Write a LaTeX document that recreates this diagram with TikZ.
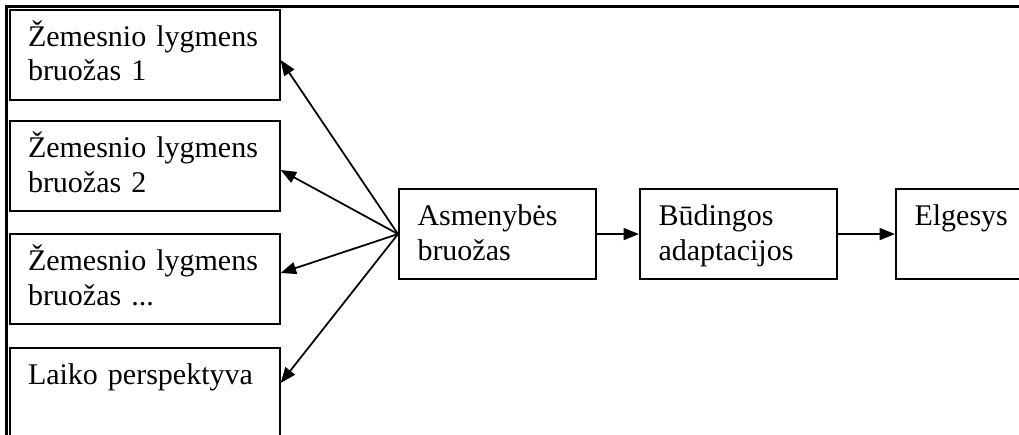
\documentclass[tikz,border=0pt]{standalone}
\usepackage{fontspec}
\setmainfont{Liberation Serif}
\usetikzlibrary{arrows.meta}

\tikzset{
    box/.style={draw,line width=0.85pt,rectangle,anchor=north west,inner sep=0pt,minimum height=36pt},
    txt/.style={font=\fontsize{12}{13.8}\selectfont,text width=100pt,align=left,inner sep=0pt,
        anchor=base west,xshift=7.6pt,yshift=-15pt},
    arr/.style={-{Triangle[length=6.2pt,width=4.8pt]},line width=0.7pt}
}

\begin{document}
\begin{tikzpicture}[x=0.4pt,y=-0.4pt]
    \useasboundingbox (0,0) rectangle (1019,434);
    \draw[line width=0.85pt] (1019,6.5) -- (6.5,6.5) -- (6.5,440);
    \node[box,minimum width=108pt,label={[txt]north west:Žemesnio lygmens\\bruožas 1}] (low1) at (8.5,8.5) {};
    \node[box,minimum width=108pt,label={[txt]north west:Žemesnio lygmens\\bruožas 2}] (low2) at (8.5,120) {};
    \node[box,minimum width=108pt,label={[txt]north west:Žemesnio lygmens\\bruožas ...}] (low3) at (8.5,233) {};
    \node[box,minimum width=108pt,minimum height=42pt,label={[txt]north west:Laiko perspektyva}] (time) at (8.5,347) {};
    \node[box,minimum width=78.8pt,label={[txt]north west:Asmenybės\\bruožas}] (trait) at (398,188) {};
    \node[box,minimum width=78.8pt,label={[txt]north west:Būdingos\\adaptacijos}] (adapt) at (639,188) {};
    \node[box,minimum width=56pt,label={[txt]north west:Elgesys}] (behav) at (895,188) {};
    \draw[arr] (trait.west) -- ([yshift=-20.6pt]low1.north east);
    \draw[arr] (trait.west) -- ([yshift=-20pt]low2.north east);
    \draw[arr] (trait.west) -- ([yshift=-16pt]low3.north east);
    \draw[arr] (trait.west) -- ([yshift=-14.4pt]time.north east);
    \draw[arr] (trait) -- (adapt);
    \draw[arr] (adapt) -- (behav);
\end{tikzpicture}
\end{document}
